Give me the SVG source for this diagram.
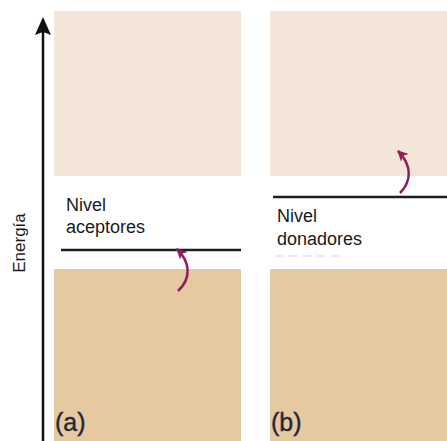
<svg xmlns="http://www.w3.org/2000/svg" width="447" height="441" viewBox="0 0 447 441">
  <style>
    .cond { fill: #F3E6D9; }
    .val { fill: #E6C9A0; }
    .lbl { font-family: "Liberation Sans", Arial, sans-serif; font-size: 18px; fill: #1A1A1A; }
    .axis-lbl { font-family: "Liberation Sans", Arial, sans-serif; font-size: 17px; fill: #1A1A1A; }
    .tag { font-family: "Liberation Sans", Arial, sans-serif; font-size: 25px; fill: #1F2940; stroke: #1F2940; stroke-width: 0.4; }
    .level { stroke: #1E1E1E; stroke-width: 2.5; fill: none; }
    .jump { stroke: #8E1F5C; stroke-width: 2.5; fill: none; marker-end: url(#head); }
  </style>
  <defs>
    <marker id="head" viewBox="0 0 10 10" refX="9" refY="5" markerWidth="11" markerHeight="11" markerUnits="userSpaceOnUse" orient="auto">
      <path d="M0,0 L10,5 L0,10 L3,5 z" fill="#8E1F5C"/>
    </marker>
  </defs>

  <rect width="447" height="441" fill="#FFFFFF"/>

  <!-- energy axis -->
  <g id="axis">
    <line x1="43" y1="30" x2="43" y2="441" stroke="#111" stroke-width="2.5"/>
    <path d="M43,17 L51,35 L43,32 L35,35 z" fill="#111"/>
    <text class="axis-lbl" transform="translate(25,243) rotate(-90)" text-anchor="middle">Energía</text>
  </g>

  <!-- (a) p-type: acceptor level -->
  <g id="panel-a">
    <rect class="cond" x="54" y="11" width="187" height="165"/>
    <rect class="val" x="54" y="269" width="187" height="172"/>
    <line class="level" x1="61" y1="250" x2="241" y2="250"/>
    <text class="lbl" x="66" y="211">Nivel</text>
    <text class="lbl" x="66" y="233">aceptores</text>
    <text class="tag" x="55" y="431">(a)</text>
  </g>

  <!-- (b) n-type: donor level -->
  <g id="panel-b">
    <rect class="cond" x="270" y="11" width="177" height="165"/>
    <rect class="val" x="270" y="269" width="177" height="172"/>
    <line class="level" x1="273" y1="197" x2="447" y2="197"/>
    <text class="lbl" x="277" y="222">Nivel</text>
    <text class="lbl" x="277" y="245">donadores</text>
    <line x1="275" y1="256" x2="345" y2="256" stroke="#B9C4D3" stroke-width="1" stroke-dasharray="8 6" opacity="0.7"/>
    <text class="tag" x="271" y="431">(b)</text>
  </g>

  <!-- electron transitions -->
  <g id="connectors">
    <path class="jump" d="M178,291 C192,278 190,262 177,249"/>
    <path class="jump" d="M400,193 C412,181 412,165 398,151"/>
  </g>
</svg>
